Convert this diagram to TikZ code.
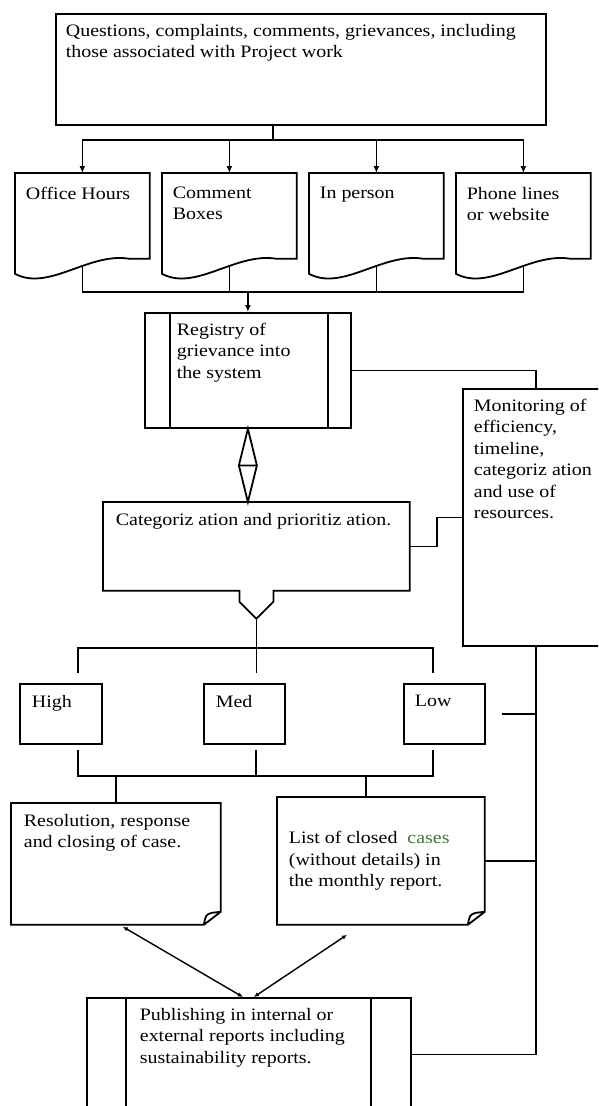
\documentclass[tikz,border=0pt]{standalone}
\usepackage{fontspec}
\setmainfont{Liberation Serif}[FakeStretch=1.14]
\usetikzlibrary{arrows.meta,calc}
\newcommand{\fs}{\fontsize{17.5}{21.5}\selectfont}
\newcommand{\bt}[3]{\parbox[t][#2][t]{#1}{\raggedright #3}}
\newcommand{\bc}[3]{\parbox[t][#2][c]{#1}{\raggedright #3}}
\definecolor{spellg}{HTML}{3C7A2E}
\tikzset{
  box/.style={draw,line width=1.8pt,anchor=north west,inner xsep=10pt,inner ysep=10pt,font=\fs},
  shp/.style={box,draw=none},
  ln/.style={line width=1.8pt},
  arr/.style={ln,-{Latex[length=7pt,width=6pt]}},
  dbl/.style={line width=1.4pt,{Latex[length=5pt,width=4.5pt]}-{Latex[length=5pt,width=4.5pt]}},
}
\begin{document}
\begin{tikzpicture}[x=1pt,y=-1pt]
\useasboundingbox (0,0) rectangle (598,1106);
\clip (0,0) rectangle (598,1106);
% input
\node[box] (top) at (55,13) {\bt{470pt}{91pt}{Questions, complaints, comments, grievances, including\\those associated with Project work}};
% channels
\node[shp,inner ysep=13pt] (d1) at (15,173)  {\bt{113pt}{58pt}{Office Hours}};
\node[shp,inner ysep=13pt] (d2) at (162,173) {\bt{113pt}{58pt}{Comment\\Boxes}};
\node[shp,inner ysep=13pt] (d3) at (309,173) {\bt{113pt}{58pt}{In person}};
\node[shp,inner ysep=13pt] (d4) at (456,173) {\bt{113pt}{58pt}{Phone lines\\or website}};
\foreach \s in {d1,d2,d3,d4}
  \draw[ln] (\s.south east) -- (\s.north east) -- (\s.north west) -- ($(\s.south west)+(0,15)$)
    .. controls ($(\s.south west)!0.25!(\s.south east)+(0,33)$) and ($(\s.south west)!0.55!(\s.south east)+(0,-7)$)
    .. ($(\s.south west)!0.85!(\s.south east)$) -- cycle;
% registry
\node[box,inner xsep=32pt] (reg) at (144,312) {\bt{142pt}{95pt}{Registry of\\grievance into\\the system}};
\draw[ln] ($(reg.north west)+(26,0)$) -- ($(reg.south west)+(26,0)$);
\draw[ln] ($(reg.north east)+(-24,0)$) -- ($(reg.south east)+(-24,0)$);
% monitoring
\node[box,inner xsep=11pt] (mon) at (462,388) {\bt{124pt}{237pt}{Monitoring of\\efficiency,\\timeline,\\categoriz ation\\and use of\\resources.}};
% categorization
\node[shp,inner xsep=12pt] (cat) at (103,502) {\bt{281pt}{67pt}{Categoriz ation and prioritiz ation.}};
\draw[ln] (cat.south west) -- (cat.north west) -- (cat.north east) -- (cat.south east)
  -- ($(cat.south)+(17,0)$) -- ++(0,11) -- ($(cat.south)+(0,28)$) coordinate (catv)
  -- ($(cat.south)+(-17,11)$) -- ($(cat.south)+(-17,0)$) -- cycle;
% priorities
\node[box,inner xsep=12pt,inner ysep=11pt] (high) at (19,683)  {\bt{58pt}{38pt}{High}};
\node[box,inner xsep=12pt,inner ysep=11pt] (med)  at (203,683) {\bt{57pt}{38pt}{Med}};
\node[box,inner xsep=11pt,inner ysep=11pt] (low)  at (403,683) {\bt{59pt}{38pt}{Low}};
% outcomes
\node[shp,inner xsep=12pt] (res) at (11,803) {\bt{184pt}{100pt}{Resolution, response\\and closing of case.}};
\node[shp,inner xsep=11pt] (list) at (277,797) {\bc{184pt}{106pt}{List of closed \ \textcolor{spellg}{cases}\\(without details) in\\the monthly report.}};
\foreach \s in {res,list}
  \draw[ln] (\s.south west) -- (\s.north west) -- (\s.north east) -- ($(\s.south east)+(0,-13)$)
    -- ($(\s.south east)+(-17,0)$) -- cycle
    ($(\s.south east)+(-17,0)$) .. controls ($(\s.south east)+(-15,-10)$) .. ($(\s.south east)+(-9,-12)$)
    -- ($(\s.south east)+(0,-13)$);
% publishing
\node[box,inner xsep=53pt] (pub) at (86,997) {\bt{218pt}{93pt}{Publishing in internal or\\external reports including\\sustainability reports.}};
\draw[ln] ($(pub.north west)+(40,0)$) -- ($(pub.south west)+(40,0)$);
\draw[ln] ($(pub.north east)+(-41,0)$) -- ($(pub.south east)+(-41,0)$);
% input to channels
\coordinate (tj) at (273,140);
\draw[ln] (top.south -| tj) -- (tj);
\foreach \s in {d1,d2,d3,d4} \draw[arr] (tj) -| (\s.north);
% channels to registry
\coordinate (bj) at (247,292);
\draw[ln] ($(d1.south)+(0,7)$) |- (d4.south |- bj) -- ($(d4.south)+(0,7)$);
\foreach \s in {d2,d3} \draw[ln] ($(\s.south)+(0,7)$) -- (\s.south |- bj);
\draw[arr] (reg.north |- bj) -- (reg.north);
% registry to categorization
\coordinate (dm) at ($(reg.south)!0.5!(reg.south |- cat.north)$);
\draw[ln,line join=miter] (reg.south) -- ($(dm)+(9,0)$) -- (reg.south |- cat.north) -- ($(dm)+(-9,0)$) -- cycle
  ($(dm)+(-9,0)$) -- ($(dm)+(9,0)$);
% categorization to priorities
\coordinate (pj) at ($(catv)+(0,29)$);
\coordinate (hA) at (78,673);
\coordinate (lA) at (433,673);
\draw[ln] (catv) -- (pj |- hA);
\draw[ln] (hA) |- (pj) -| (lA);
% priorities to outcomes
\coordinate (hB) at (78,750);
\coordinate (mB) at (256,750);
\coordinate (lB) at (433,750);
\coordinate (qj) at (256,776);
\coordinate (lsd) at ($(list.north west)+(89,0)$);
\draw[ln] (hB) |- (qj) -| (lB);
\draw[ln] (mB) -- (qj) -| (lsd);
\draw[ln] (qj -| res.north) -- (res.north);
% monitoring loop
\coordinate (lowc) at ($(low.east)+(16,0)$);
\draw[ln] (reg.east) -| (mon.north);
\draw[ln] (cat.east) -- ++(27,0) |- (mon.west);
\draw[ln] (lowc) -- (lowc -| mon.south);
\draw[ln] (list.east) -- (list.east -| mon.south);
\draw[ln] (pub.east) -| (mon.south);
% publishing
\coordinate (lsb) at ($(list.south west)+(70,10)$);
\draw[dbl] ($(pub.north)+(-6,0)$) -- ($(res.south)+(7,2)$);
\draw[dbl] ($(pub.north)+(5,0)$) -- (lsb);
\end{tikzpicture}
\end{document}
